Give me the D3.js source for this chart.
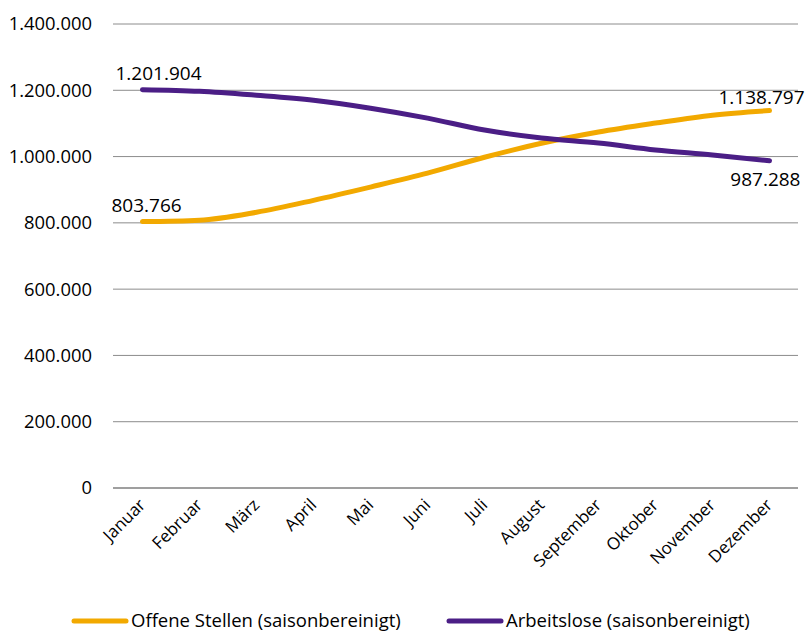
<!DOCTYPE html>
<html>
<head>
<meta charset="utf-8">
<script src="https://cdn.jsdelivr.net/npm/d3@7"></script>
<style>
  body { margin: 0; background: #fff; }
  text { font-family: "Open Sans", "Noto Sans", sans-serif; fill: #000; }
</style>
</head>
<body>
<div id="chart"></div>
<script>
// Data
const months = ["Januar", "Februar", "März", "April", "Mai", "Juni", "Juli",
  "August", "September", "Oktober", "November", "Dezember"];
const offeneStellen = [803766, 808000, 832000, 868000, 908000, 950000, 998000,
  1040000, 1074000, 1101000, 1125000, 1138797];
const arbeitslose = [1201904, 1197000, 1185000, 1170000, 1146000, 1116000, 1080000,
  1056000, 1041000, 1020000, 1005000, 987288];
const yTicks = [0, 200000, 400000, 600000, 800000, 1000000, 1200000, 1400000];
const seriesNames = ["Offene Stellen (saisonbereinigt)", "Arbeitslose (saisonbereinigt)"];

const width = 806, height = 634;
const margin = { left: 114, right: 8, top: 24, bottom: 146 };
const colors = ["#F2A900", "#4B1E86"];

const svg = d3.select("#chart").append("svg")
  .attr("width", width)
  .attr("height", height);

const x = d3.scalePoint()
  .domain(months)
  .range([margin.left, width - margin.right])
  .padding(0.5);

const y = d3.scaleLinear()
  .domain([0, 1400000])
  .range([height - margin.bottom, margin.top]);

const fmt = v => d3.format(",")(v).replace(/,/g, ".");

// gridlines
svg.append("g")
  .selectAll("line")
  .data(yTicks)
  .enter().append("line")
  .attr("x1", margin.left - 1)
  .attr("x2", width - margin.right)
  .attr("y1", d => y(d))
  .attr("y2", d => y(d))
  .style("stroke", d => d === 0 ? "#7f7f7f" : "#8c8c8c")
  .style("stroke-width", d => d === 0 ? 1.5 : 1);

// y labels
svg.append("g")
  .selectAll("text")
  .data(yTicks)
  .enter().append("text")
  .attr("x", 92)
  .attr("y", d => y(d))
  .attr("dy", "0.35em")
  .style("text-anchor", "end")
  .style("font-size", "18.4px")
  .text(d => fmt(d));

// x labels
svg.append("g")
  .selectAll("text")
  .data(months)
  .enter().append("text")
  .attr("transform", d => `translate(${x(d) + 4},${y(0) + 18}) rotate(-45)`)
  .style("text-anchor", "end")
  .style("font-size", "17px")
  .text(d => d);

// lines
const line = d3.line()
  .x((d, i) => x(months[i]))
  .y(d => y(d))
  .curve(d3.curveMonotoneX);

[offeneStellen, arbeitslose].forEach((s, k) => {
  svg.append("path")
    .datum(s)
    .attr("d", line)
    .style("fill", "none")
    .style("stroke", colors[k])
    .style("stroke-width", 5)
    .style("stroke-linecap", "round");
});

// data labels
const first = x(months[0]), last = x(months[11]);
const lbl = { size: "19px" };
svg.append("text").attr("x", first - 27).attr("y", y(arbeitslose[0]) - 10)
  .style("font-size", lbl.size).text(fmt(arbeitslose[0]));
svg.append("text").attr("x", first - 31).attr("y", y(offeneStellen[0]) - 10)
  .style("font-size", lbl.size).text(fmt(offeneStellen[0]));
svg.append("text").attr("x", last + 35).attr("y", y(offeneStellen[11]) - 7)
  .style("text-anchor", "end").style("font-size", lbl.size).text(fmt(offeneStellen[11]));
svg.append("text").attr("x", last + 31).attr("y", y(arbeitslose[11]) + 25)
  .style("text-anchor", "end").style("font-size", lbl.size).text(fmt(arbeitslose[11]));

// legend
const legendX = [72, 447];
seriesNames.forEach((name, k) => {
  const g = svg.append("g").attr("transform", `translate(${legendX[k]},621)`);
  g.append("line").attr("x1", 2).attr("x2", 54).attr("y1", 0).attr("y2", 0)
    .style("stroke", colors[k]).style("stroke-width", 5).style("stroke-linecap", "round");
  g.append("text").attr("x", 59).attr("y", 0).attr("dy", "0.35em")
    .style("font-size", "18.5px").text(name);
});
</script>
</body>
</html>
